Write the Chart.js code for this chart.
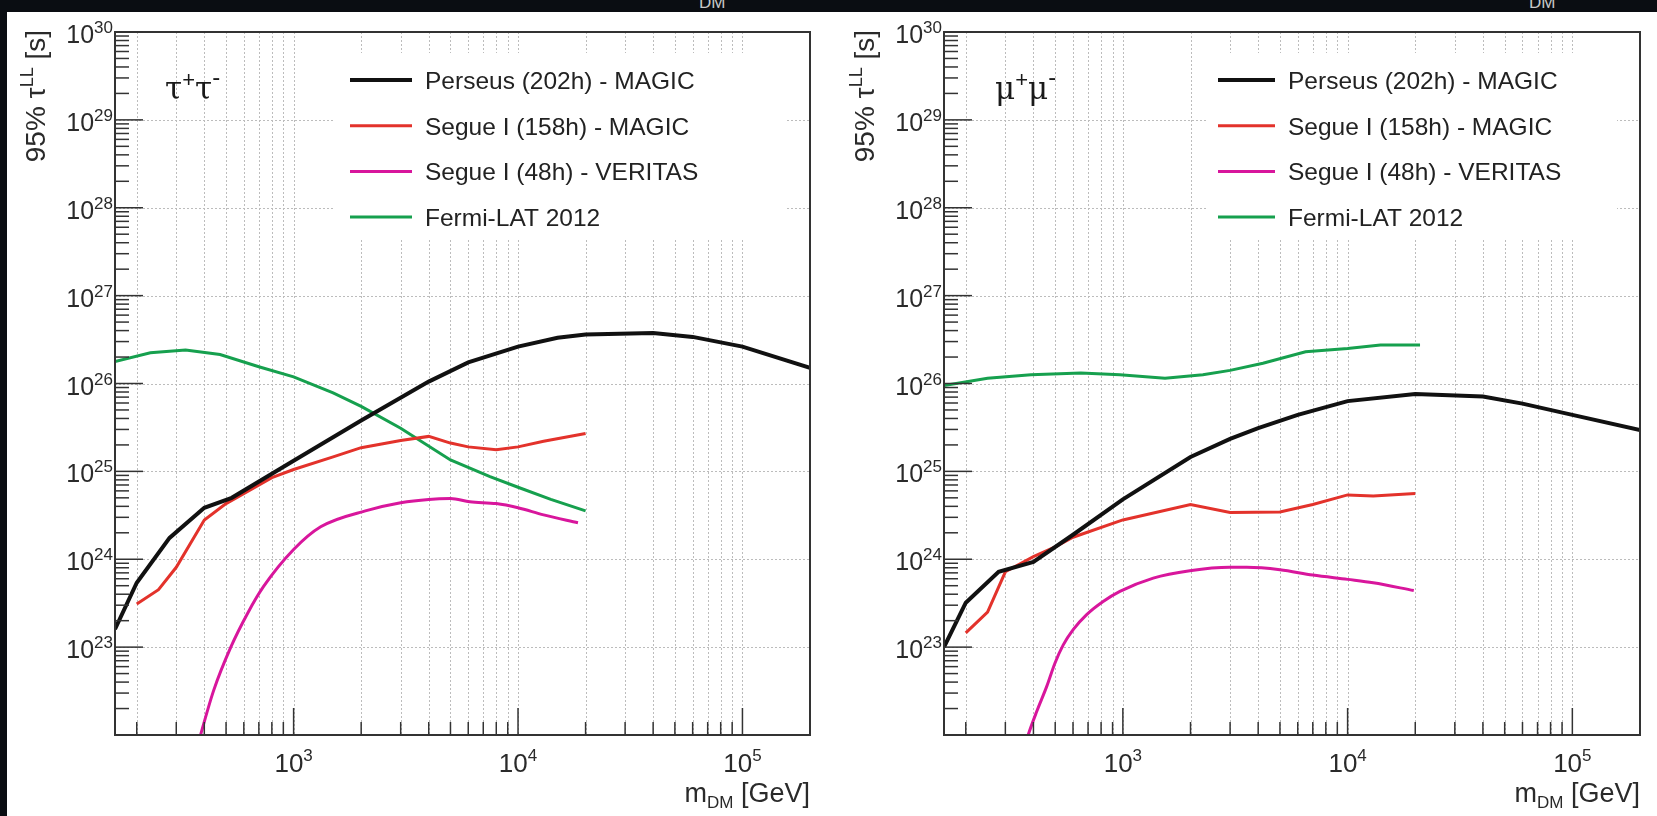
<!DOCTYPE html>
<html>
<head>
<meta charset="utf-8">
<script src="https://cdn.jsdelivr.net/npm/chart.js@4.4.1/dist/chart.umd.min.js"></script>
<style>
  body { margin: 0; background: #0a0d12; width: 1657px; height: 816px; overflow: hidden; position: relative; }
  #sheet { position: absolute; left: 7px; top: 12px; width: 1650px; height: 804px; background: #fff; }
  canvas { position: absolute; top: 0; }
  .cut { position: absolute; top: -7px; color: #c8c8c8; font: 17px "Liberation Sans", Arial, sans-serif; }
</style>
</head>
<body>
<span class="cut" style="left:699px">DM</span>
<span class="cut" style="left:1529px">DM</span>
<div id="sheet">
  <canvas id="tau" width="821" height="804" style="left:0"></canvas>
  <canvas id="mu" width="829" height="804" style="left:821px"></canvas>
</div>
<script>
// ---- data (m in GeV, lifetime in s) ----
const SERIES_LABELS = ['Perseus (202h) - MAGIC', 'Segue I (158h) - MAGIC', 'Segue I (48h) - VERITAS', 'Fermi-LAT 2012'];
const SERIES_COLORS = ['#111111', '#e3322b', '#d8169c', '#16a04e'];
const X_LABEL_EXP = [3, 4, 5];
const Y_LABEL_EXP = [23, 24, 25, 26, 27, 28, 29, 30];

// tau+ tau- channel
const TAU_PERSEUS_M = [160, 200, 280, 400, 530, 1000, 2000, 4000, 6000, 10000, 15000, 20000, 40000, 60000, 100000, 200000];
const TAU_PERSEUS   = [1.6e23, 5.4e23, 1.75e24, 3.85e24, 5.0e24, 1.32e25, 3.8e25, 1.05e26, 1.74e26, 2.63e26, 3.31e26, 3.6e26, 3.76e26, 3.39e26, 2.63e26, 1.51e26];
const TAU_SEGUE_M   = [200, 250, 300, 400, 500, 800, 1000, 1500, 2000, 3000, 4000, 5000, 6000, 8000, 10000, 13000, 20000];
const TAU_SEGUE     = [3.1e23, 4.5e23, 8.1e23, 2.8e24, 4.3e24, 8.5e24, 1.05e25, 1.46e25, 1.86e25, 2.24e25, 2.5e25, 2.1e25, 1.9e25, 1.76e25, 1.9e25, 2.2e25, 2.7e25];
const TAU_VERITAS_M = [370, 440, 525, 625, 735, 1000, 1320, 2130, 3000, 4000, 5000, 6100, 8000, 10000, 13000, 18500];
const TAU_VERITAS   = [7e21, 3.2e22, 1.0e23, 2.45e23, 4.9e23, 1.29e24, 2.34e24, 3.6e24, 4.4e24, 4.8e24, 4.9e24, 4.5e24, 4.3e24, 3.85e24, 3.2e24, 2.6e24];
const TAU_FERMI_M   = [160, 230, 330, 470, 700, 1000, 1500, 2000, 3000, 5000, 7500, 10000, 14000, 20000];
const TAU_FERMI     = [1.78e26, 2.24e26, 2.4e26, 2.14e26, 1.55e26, 1.19e26, 7.8e25, 5.5e25, 3.1e25, 1.35e25, 8.7e24, 6.6e24, 4.8e24, 3.55e24];

// mu+ mu- channel
const MU_PERSEUS_M = [160, 200, 280, 400, 600, 1000, 2000, 3000, 4000, 6000, 10000, 20000, 40000, 60000, 100000, 200000];
const MU_PERSEUS   = [1.0e23, 3.2e23, 7.2e23, 9.3e23, 1.9e24, 4.8e24, 1.46e25, 2.34e25, 3.1e25, 4.4e25, 6.3e25, 7.6e25, 7.1e25, 5.9e25, 4.4e25, 2.95e25];
const MU_SEGUE_M   = [200, 250, 300, 400, 500, 600, 1000, 2000, 3000, 5000, 7000, 10000, 13000, 20000];
const MU_SEGUE     = [1.45e23, 2.5e23, 7.2e23, 1.07e24, 1.38e24, 1.78e24, 2.8e24, 4.2e24, 3.4e24, 3.45e24, 4.2e24, 5.4e24, 5.25e24, 5.6e24];
const MU_VERITAS_M = [350, 379, 414, 458, 499, 543, 601, 690, 817, 970, 1365, 1986, 2990, 3560, 5000, 7000, 10000, 13000, 19700];
const MU_VERITAS   = [5e21, 1.0e22, 1.86e22, 3.55e22, 6.6e22, 1.06e23, 1.58e23, 2.34e23, 3.3e23, 4.3e23, 6.1e23, 7.4e23, 8.1e23, 8.1e23, 7.6e23, 6.6e23, 5.9e23, 5.4e23, 4.4e23];
const MU_FERMI_M   = [160, 250, 390, 650, 970, 1540, 2270, 3000, 4200, 6500, 10000, 14000, 21000];
const MU_FERMI     = [9.5e25, 1.15e26, 1.26e26, 1.32e26, 1.26e26, 1.15e26, 1.26e26, 1.41e26, 1.7e26, 2.3e26, 2.5e26, 2.75e26, 2.75e26];

const SANS = '"Liberation Sans", Arial, sans-serif';
const SERIF = '"DejaVu Serif", "Liberation Serif", serif';

function pts(ms, vs) { return ms.map((m, i) => ({ x: m, y: vs[i] })); }

// draw a row of text pieces [text, font, dy]
function drawRuns(ctx, runs, x, y, align) {
  let w = 0;
  runs.forEach(r => { ctx.font = r[1]; w += ctx.measureText(r[0]).width; });
  let cx = align === 'right' ? x - w : align === 'center' ? x - w / 2 : x;
  ctx.textAlign = 'left';
  ctx.textBaseline = 'alphabetic';
  runs.forEach(r => {
    ctx.font = r[1];
    ctx.fillText(r[0], cx, y + (r[2] || 0));
    cx += ctx.measureText(r[0]).width;
  });
}

function logTicks(lo, hi) {
  const out = [];
  for (let e = Math.floor(Math.log10(lo)); e <= Math.ceil(Math.log10(hi)); e++) {
    for (let k = 1; k <= 9; k++) {
      const v = k * Math.pow(10, e);
      if (v >= lo * 0.999 && v <= hi * 1.001) out.push({ v, major: k === 1 });
    }
  }
  return out;
}

const rootStyle = {
  id: 'rootStyle',
  beforeDatasetsDraw(chart, args, o) {
    const { ctx, chartArea: a, scales: { x, y } } = chart;
    ctx.save();
    ctx.strokeStyle = '#bcbcbc';
    ctx.lineWidth = 1;
    ctx.setLineDash([2, 2]);
    logTicks(x.min, x.max).forEach(t => {
      const px = Math.round(x.getPixelForValue(t.v)) + 0.5;
      if (px <= a.left + 1 || px >= a.right - 1) return;
      ctx.beginPath(); ctx.moveTo(px, a.top); ctx.lineTo(px, a.bottom); ctx.stroke();
    });
    Y_LABEL_EXP.forEach(e => {
      const py = Math.round(y.getPixelForValue(Math.pow(10, e))) + 0.5;
      if (py <= a.top + 1 || py >= a.bottom - 1) return;
      ctx.beginPath(); ctx.moveTo(a.left, py); ctx.lineTo(a.right, py); ctx.stroke();
    });
    ctx.setLineDash([]);
    // legend pad hides the grid
    ctx.fillStyle = '#fff';
    ctx.fillRect(o.box[0], o.box[1], o.box[2] - o.box[0], o.box[3] - o.box[1]);
    ctx.restore();
  },
  afterDatasetsDraw(chart, args, o) {
    const { ctx, chartArea: a, scales: { x, y } } = chart;
    ctx.save();
    // frame
    ctx.strokeStyle = '#333';
    ctx.lineWidth = 2;
    ctx.strokeRect(a.left, a.top, a.right - a.left, a.bottom - a.top);
    // ticks
    ctx.lineWidth = 1.5;
    logTicks(y.min, y.max).forEach(t => {
      const py = y.getPixelForValue(t.v);
      ctx.beginPath(); ctx.moveTo(a.left, py); ctx.lineTo(a.left + (t.major ? 28 : 14), py); ctx.stroke();
    });
    logTicks(x.min, x.max).forEach(t => {
      const px = x.getPixelForValue(t.v);
      if (px >= a.right - 1) return;
      ctx.beginPath(); ctx.moveTo(px, a.bottom); ctx.lineTo(px, a.bottom - (t.major ? 27 : 13)); ctx.stroke();
    });
    // tick labels
    ctx.fillStyle = '#2a2a2a';
    Y_LABEL_EXP.forEach(e => {
      const py = y.getPixelForValue(Math.pow(10, e));
      drawRuns(ctx, [['10', '25px ' + SANS, 11], [String(e), '17px ' + SANS, 1]], a.left - 2, py, 'right');
    });
    X_LABEL_EXP.forEach(e => {
      const px = x.getPixelForValue(Math.pow(10, e));
      drawRuns(ctx, [['10', '26px ' + SANS, 0], [String(e), '17px ' + SANS, -11]], px, a.bottom + 37, 'center');
    });
    // axis titles
    drawRuns(ctx, [['m', '27px ' + SANS, 0], ['DM', '17px ' + SANS, 6], [' [GeV]', '27px ' + SANS, 0]], a.right, a.bottom + 67, 'right');
    ctx.save();
    ctx.translate(a.left - 70, a.top - 2);
    ctx.rotate(-Math.PI / 2);
    drawRuns(ctx, [['95% τ', '28px ' + SANS, 0], ['LL', '18px ' + SANS, -12], [' [s]', '28px ' + SANS, 0]], 0, 0, 'right');
    ctx.restore();
    // channel label
    ctx.fillStyle = '#1a1a1a';
    drawRuns(ctx, [[o.particle, '31px ' + SERIF, 0], ['+', '22px ' + SANS, -12], [o.particle, '31px ' + SERIF, 0], ['-', '24px ' + SANS, -14]], o.label[0], o.label[1], 'left');
    // legend entries
    chart.data.datasets.forEach((ds, i) => {
      const ry = a.top + 48 + i * 45.7;
      ctx.strokeStyle = ds.borderColor;
      ctx.lineWidth = i === 0 ? 4 : 3;
      ctx.beginPath(); ctx.moveTo(o.line[0], ry); ctx.lineTo(o.line[1], ry); ctx.stroke();
      ctx.fillStyle = '#222';
      ctx.font = '24.5px ' + SANS;
      ctx.textAlign = 'left';
      ctx.textBaseline = 'alphabetic';
      ctx.fillText(ds.label, o.line[2], ry + 9);
    });
    ctx.restore();
  }
};

function makeChart(id, series, pad, style) {
  const datasets = series.map((s, i) => ({
    label: SERIES_LABELS[i],
    data: pts(s[0], s[1]),
    borderColor: SERIES_COLORS[i],
    borderWidth: i === 0 ? 4 : 3,
    pointRadius: 0,
    tension: i === 2 ? 0.4 : 0,
    cubicInterpolationMode: i === 2 ? 'monotone' : 'default',
    clip: 0
  }));
  return new Chart(document.getElementById(id).getContext('2d'), {
    type: 'line',
    data: { datasets },
    options: {
      responsive: false,
      animation: false,
      devicePixelRatio: 1,
      layout: { padding: pad },
      scales: {
        x: { type: 'logarithmic', min: 160, max: 200000, display: false },
        y: { type: 'logarithmic', min: 1e22, max: 1e30, display: false }
      },
      plugins: { legend: { display: false }, tooltip: { enabled: false }, rootStyle: style }
    },
    plugins: [rootStyle]
  });
}

makeChart('tau', [
  [TAU_PERSEUS_M, TAU_PERSEUS], [TAU_SEGUE_M, TAU_SEGUE],
  [TAU_VERITAS_M, TAU_VERITAS], [TAU_FERMI_M, TAU_FERMI]
], { left: 108, right: 18, top: 20, bottom: 81 },
  { box: [326, 41, 780, 228], line: [343, 405, 418], particle: 'τ', label: [158, 87] });

makeChart('mu', [
  [MU_PERSEUS_M, MU_PERSEUS], [MU_SEGUE_M, MU_SEGUE],
  [MU_VERITAS_M, MU_VERITAS], [MU_FERMI_M, MU_FERMI]
], { left: 116, right: 17, top: 20, bottom: 81 },
  { box: [379, 41, 789, 228], line: [390, 447, 460], particle: 'μ', label: [167, 87] });
</script>
</body>
</html>
